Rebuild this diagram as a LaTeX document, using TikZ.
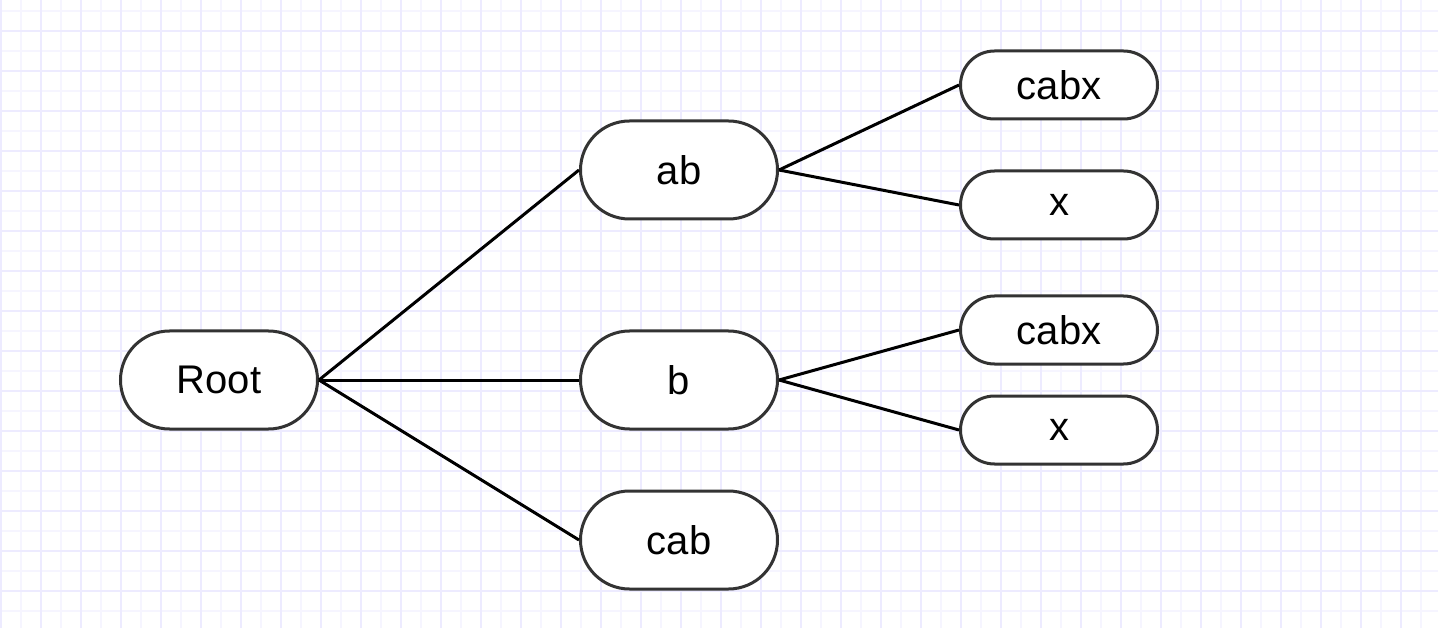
\documentclass[tikz,border=0pt]{standalone}
\usepackage{fontspec}
\setmainfont{Liberation Sans}
\definecolor{gridminor}{RGB}{246,245,255}
\definecolor{gridmajor}{RGB}{237,235,255}
\definecolor{nodeline}{RGB}{51,51,51}
\begin{document}
\begin{tikzpicture}[x=1pt,y=-1pt,
  pill/.style={draw=nodeline, line width=3pt, fill=white, rounded corners=#1,
    inner sep=0pt, font=\fontsize{40}{46}\selectfont, text=black},
  bigpill/.style={pill=49pt, minimum width=197pt, minimum height=98pt},
  smallpill/.style={pill=34pt, minimum width=197pt, minimum height=68pt},
  link/.style={draw=black, line width=3pt}]
  % canvas and background grid
  \useasboundingbox (0,0) rectangle (1438,628);
  \fill[white] (0,0) rectangle (1438,628);
  \foreach \gx in {1,21,...,1438} {
    \draw[gridminor, line width=2pt] (\gx,0) -- (\gx,628);
  }
  \foreach \gy in {11,31,...,628} {
    \draw[gridminor, line width=2pt] (0,\gy) -- (1438,\gy);
  }
  \foreach \gx in {1,41,...,1438} {
    \draw[gridmajor, line width=2pt] (\gx,0) -- (\gx,628);
  }
  \foreach \gy in {31,71,...,628} {
    \draw[gridmajor, line width=2pt] (0,\gy) -- (1438,\gy);
  }
  % tree nodes
  \node[bigpill] (root) at (219,380) {Root};
  \node[bigpill] (ab) at (679,170) {ab};
  \node[bigpill] (b) at (679,380) {b};
  \node[bigpill] (cab) at (679,540) {cab};
  \node[smallpill] (abcabx) at (1059,85) {cabx};
  \node[smallpill] (abx) at (1059,205) {x};
  \node[smallpill] (bcabx) at (1059,330) {cabx};
  \node[smallpill] (bx) at (1059,430) {x};
  % connectors
  \draw[link] (root.east) -- (ab.west);
  \draw[link] (root.east) -- (b.west);
  \draw[link] (root.east) -- (cab.west);
  \draw[link] (ab.east) -- (abcabx.west);
  \draw[link] (ab.east) -- (abx.west);
  \draw[link] (b.east) -- (bcabx.west);
  \draw[link] (b.east) -- (bx.west);
\end{tikzpicture}
\end{document}
